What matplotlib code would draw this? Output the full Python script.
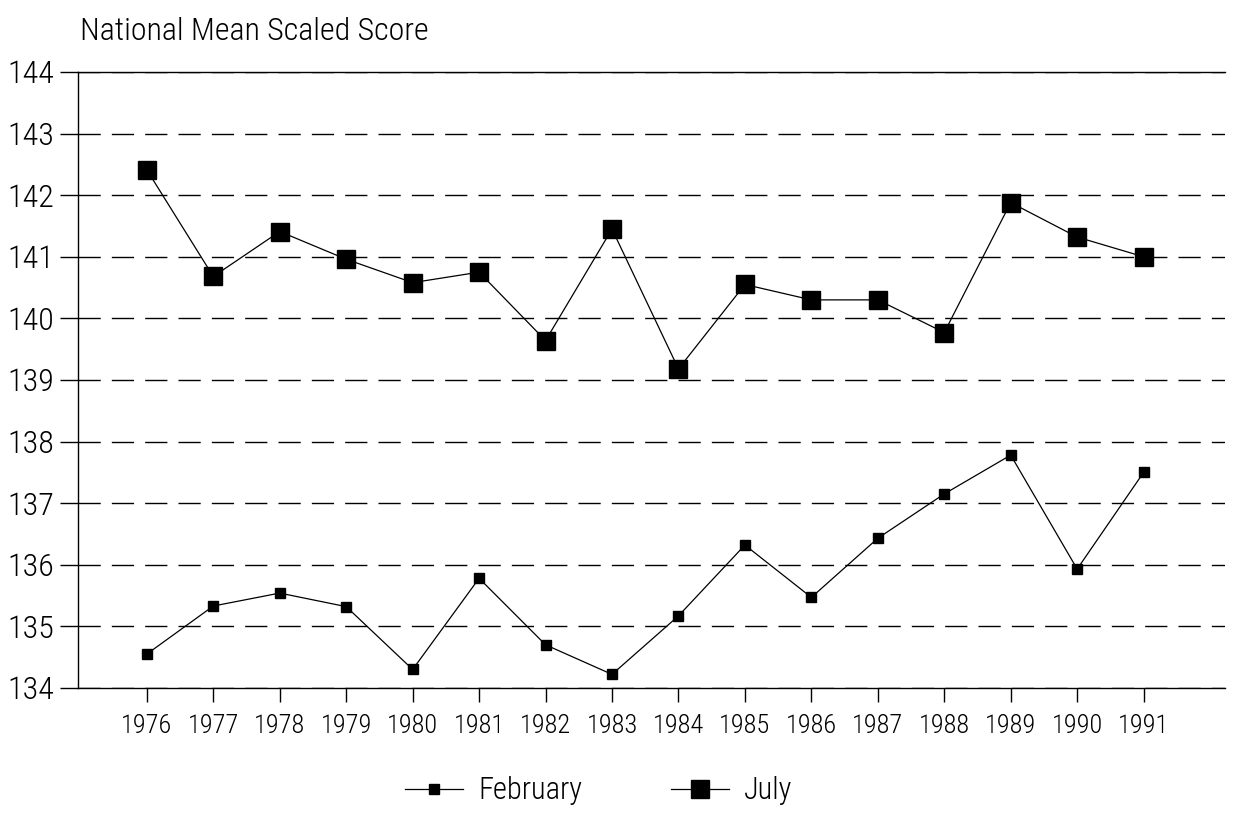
import matplotlib
matplotlib.use("Agg")
import matplotlib.pyplot as plt
from matplotlib import font_manager
import numpy as np

years = ["1976", "1977", "1978", "1979", "1980", "1981", "1982", "1983",
         "1984", "1985", "1986", "1987", "1988", "1989", "1990", "1991"]
february = [134.55, 135.33, 135.54, 135.32, 134.30, 135.78, 134.70, 134.22,
            135.17, 136.32, 135.47, 136.43, 137.15, 137.78, 135.93, 137.50]
july = [142.41, 140.68, 141.41, 140.96, 140.58, 140.75, 139.64, 141.45,
        139.18, 140.55, 140.30, 140.30, 139.77, 141.88, 141.32, 141.00]
y_ticks = [134, 135, 136, 137, 138, 139, 140, 141, 142, 143, 144]

# a narrow face looks closest; fall back to plain Liberation Sans
names = {f.name for f in font_manager.fontManager.ttflist}
family = "Liberation Sans"
for cand in ["Liberation Sans Narrow", "Roboto Condensed", "Open Sans Condensed"]:
    if cand in names:
        family = cand
        break
plt.rcParams["font.family"] = [family, "DejaVu Sans"]
plt.rcParams["font.weight"] = "light"


def main():
    fig = plt.figure(figsize=(12.34, 8.18), dpi=100)
    ax = fig.add_axes([0.063, 0.159, 0.93, 0.753])

    x = np.arange(len(years))
    ax.plot(x, february, color="black", lw=0.9, marker="s", ms=6.5,
            label="February")
    ax.plot(x, july, color="black", lw=0.9, marker="s", ms=13,
            label="July")

    ax.set_xlim(-1.04, 16.23)
    ax.set_ylim(134, 144)
    ax.set_yticks(y_ticks)
    ax.set_yticklabels([str(v) for v in y_ticks], fontsize=23)
    ax.set_xticks(x)
    ax.set_xticklabels(years, fontsize=19)
    ax.tick_params(axis="y", direction="out", length=13, width=1, pad=4)
    ax.tick_params(axis="x", direction="out", length=10, width=1, pad=9)
    ax.yaxis.grid(True, color="black", lw=1.0, linestyle=(0, (16, 8)))
    ax.set_axisbelow(True)

    ax.spines["right"].set_visible(False)
    for s in ("left", "bottom", "top"):
        ax.spines[s].set_linewidth(1.0)

    fig.text(0.065, 0.944, "National Mean Scaled Score", fontsize=23,
             ha="left", va="bottom")

    fig.legend(loc="lower center", bbox_to_anchor=(0.485, -0.018), ncol=2,
               frameon=False, fontsize=22, handlelength=1.9,
               columnspacing=2.9, handletextpad=0.5)

    fig.savefig("out.png", dpi=100)


if __name__ == "__main__":
    main()
